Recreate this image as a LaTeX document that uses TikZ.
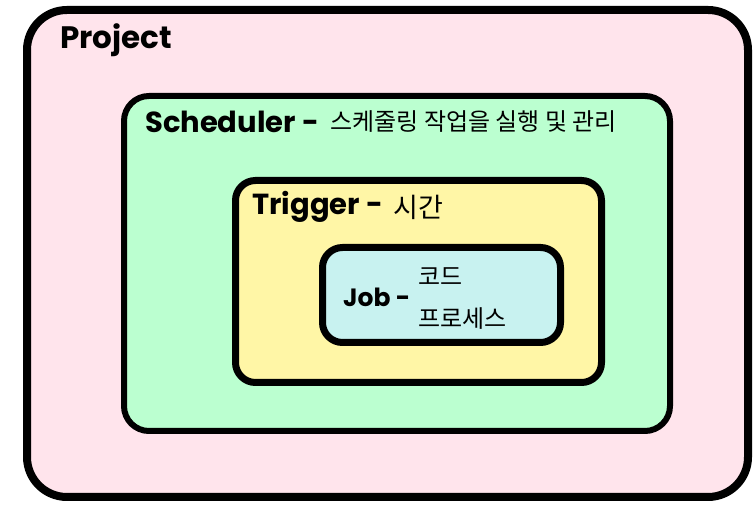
\documentclass[tikz,border=0pt]{standalone}
\usepackage{fontspec}
\usepackage{tikz}
\usetikzlibrary{positioning}
\setmainfont{Poppins}
\newfontfamily\kr{Noto Sans CJK KR}
\definecolor{prj}{HTML}{FFE4EC}
\definecolor{sch}{HTML}{BBFFD0}
\definecolor{trg}{HTML}{FFF6A6}
\definecolor{jb}{HTML}{C8F2F0}
\newcommand{\hd}[2][29]{{\fontsize{#1}{#1}\selectfont\bfseries #2}}
\newcommand{\ko}[2][24]{{\kr\fontsize{#1}{#1}\selectfont #2}}
\tikzset{
  frame/.style={draw=black,rounded corners=20pt,inner sep=0pt,anchor=south west},
  lbl/.style={anchor=west,inner sep=0pt},
}
\begin{document}
\begin{tikzpicture}[x=1pt,y=1pt]
\useasboundingbox (0,0) rectangle (755,513);
\node[frame,line width=8pt,rounded corners=40pt,fill=prj,minimum width=721pt,minimum height=487pt] (prjbox) at (23,12) {};
\node[frame,line width=6pt,rounded corners=25pt,fill=sch,minimum width=546pt,minimum height=335pt] (schbox) at (121,79) {};
\node[frame,line width=7pt,fill=trg,minimum width=366pt,minimum height=202pt] (trgbox) at (232,127) {};
\node[frame,line width=7pt,fill=jb,minimum width=238pt,minimum height=95pt] (jbbox) at (319,167) {};
% labels
\node[lbl] (prjlbl) at (60,473) {\hd[31]{Project}};
\node[lbl] (schlbl) at (145,391) {\hd{Scheduler -}};
\node[lbl,right=11pt of schlbl] (schtxt) {\ko{스케줄링 작업을 실행 및 관리}};
\node[lbl] (trglbl) at (252,306) {\hd{Trigger -}};
\node[lbl,right=10pt of trglbl] (trgtxt) {\ko[27]{시간}};
\node[lbl] (jblbl) at (343,216) {\hd[25]{Job -}};
\node[lbl,align=left,right=8pt of jblbl,yshift=-2pt,font=\kr\fontsize{24}{42}\selectfont] (jbtxt) {코드\\프로세스};
\end{tikzpicture}
\end{document}
